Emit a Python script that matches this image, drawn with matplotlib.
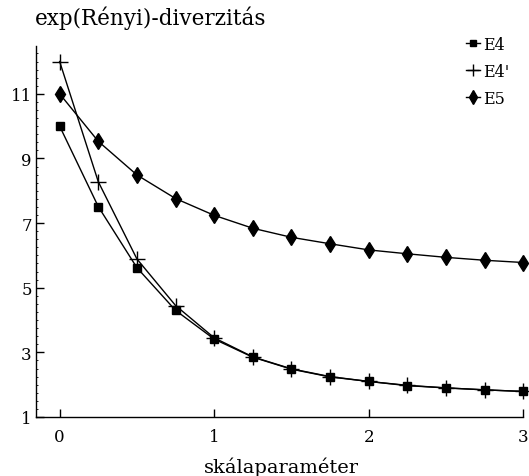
import matplotlib
matplotlib.use("Agg")
import matplotlib.pyplot as plt
from matplotlib.ticker import MultipleLocator

plt.rcParams['font.family'] = ['DejaVu Serif']

x = [0, 0.25, 0.5, 0.75, 1.0, 1.25, 1.5, 1.75, 2.0, 2.25, 2.5, 2.75, 3.0]
e4 = [10.0, 7.51, 5.62, 4.30, 3.41, 2.85, 2.48, 2.24, 2.10, 1.97, 1.90, 1.84, 1.79]
e4p = [12.0, 8.28, 5.89, 4.45, 3.45, 2.86, 2.49, 2.25, 2.10, 1.98, 1.90, 1.84, 1.79]
e5 = [11.0, 9.53, 8.49, 7.76, 7.24, 6.84, 6.56, 6.36, 6.17, 6.05, 5.94, 5.85, 5.78]

xticks = [0, 1, 2, 3]
yticks = [1, 3, 5, 7, 9, 11]

fig = plt.figure(figsize=(5.29, 4.77), dpi=100)
ax = fig.add_axes([36/529, 1-418/477, (523.3-36)/529, (418-47)/477])

ax.plot(x, e4, color='black', lw=1.0, marker='s', ms=5.5, label='E4', clip_on=False, zorder=3)
ax.plot(x, e4p, color='black', lw=1.0, marker='+', ms=11, mew=1.0, label="E4'", clip_on=False, zorder=3)
ax.plot(x, e5, color='black', lw=1.0, marker='d', ms=8, label='E5', clip_on=False, zorder=3)

ax.set_xlim(-0.153, 3.0)
ax.set_ylim(1, 12.48)
ax.set_xticks(xticks)
ax.set_yticks(yticks)
ax.yaxis.set_minor_locator(MultipleLocator(0.25))
ax.tick_params(axis='both', which='major', direction='in', length=6, width=1.0,
               labelsize=12, colors='black')
ax.tick_params(axis='x', which='major', pad=8)
ax.tick_params(axis='y', which='major', pad=3)
ax.tick_params(axis='y', which='minor', direction='in', length=1.5, width=0.6)
for s in ['top', 'right']:
    ax.spines[s].set_visible(False)
for s in ['left', 'bottom']:
    ax.spines[s].set_linewidth(1.0)

fig.text(35/529, 1-18/477, 'exp(Rényi)-diverzitás', fontsize=15.5, ha='left', va='center')
fig.text(281/529, 1-467/477, 'skálaparaméter', fontsize=14, ha='center', va='center')

leg = ax.legend(loc='upper left', bbox_to_anchor=(466/529, 1-37/477), bbox_transform=fig.transFigure,
                frameon=False, handlelength=0.9, handletextpad=0.2, labelspacing=0.62,
                fontsize=11.5, borderaxespad=0, borderpad=0, markerscale=0.85)

fig.savefig('out.png', dpi=100)
